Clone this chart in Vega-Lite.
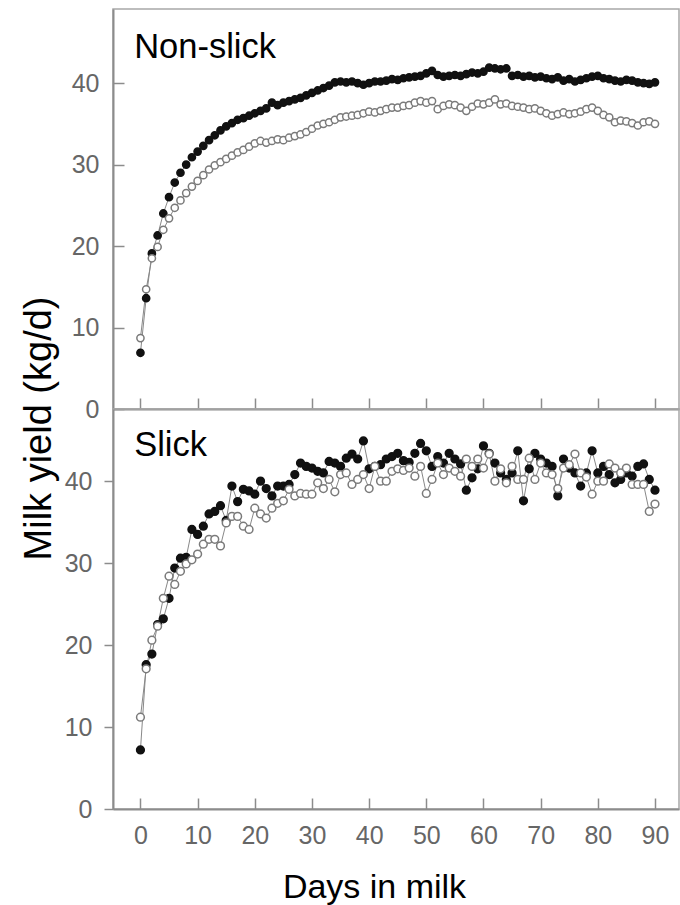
{
"$schema": "https://vega.github.io/schema/vega-lite/v6.json",
"padding": {"left": 19, "top": 8, "right": 0, "bottom": 0},
"spacing": 0,
"bounds": "flush",
"config": {
  "font": "Liberation Sans",
  "view": {"stroke": "#a8a8a8", "strokeWidth": 1.5},
  "axis": {"domainColor": "#8c8c8c", "domainWidth": 2, "tickColor": "#8c8c8c", "tickWidth": 1.5, "labelColor": "#666666", "labelFontSize": 25, "labelFont": "Liberation Sans", "grid": false, "titleColor": "#000000", "titleFontWeight": "normal", "titleFont": "Liberation Sans"}
},
"datasets": {
"ns": [
{"day":0,"series":"filled","milk":6.9},{"day":1,"series":"filled","milk":13.6},{"day":2,"series":"filled","milk":19.1},{"day":3,"series":"filled","milk":21.3},{"day":4,"series":"filled","milk":24.0},{"day":5,"series":"filled","milk":26.0},{"day":6,"series":"filled","milk":27.8},{"day":7,"series":"filled","milk":29.0},{"day":8,"series":"filled","milk":30.0},{"day":9,"series":"filled","milk":30.9},
{"day":10,"series":"filled","milk":31.6},{"day":11,"series":"filled","milk":32.3},{"day":12,"series":"filled","milk":33.0},{"day":13,"series":"filled","milk":33.6},{"day":14,"series":"filled","milk":34.2},{"day":15,"series":"filled","milk":34.7},{"day":16,"series":"filled","milk":35.1},{"day":17,"series":"filled","milk":35.5},{"day":18,"series":"filled","milk":35.7},{"day":19,"series":"filled","milk":36.0},
{"day":20,"series":"filled","milk":36.3},{"day":21,"series":"filled","milk":36.6},{"day":22,"series":"filled","milk":36.9},{"day":23,"series":"filled","milk":37.6},{"day":24,"series":"filled","milk":37.3},{"day":25,"series":"filled","milk":37.6},{"day":26,"series":"filled","milk":37.8},{"day":27,"series":"filled","milk":38.0},{"day":28,"series":"filled","milk":38.2},{"day":29,"series":"filled","milk":38.5},
{"day":30,"series":"filled","milk":38.8},{"day":31,"series":"filled","milk":39.1},{"day":32,"series":"filled","milk":39.4},{"day":33,"series":"filled","milk":39.7},{"day":34,"series":"filled","milk":40.1},{"day":35,"series":"filled","milk":40.2},{"day":36,"series":"filled","milk":40.1},{"day":37,"series":"filled","milk":40.2},{"day":38,"series":"filled","milk":40.0},{"day":39,"series":"filled","milk":39.8},
{"day":40,"series":"filled","milk":40.0},{"day":41,"series":"filled","milk":40.2},{"day":42,"series":"filled","milk":40.2},{"day":43,"series":"filled","milk":40.3},{"day":44,"series":"filled","milk":40.5},{"day":45,"series":"filled","milk":40.4},{"day":46,"series":"filled","milk":40.6},{"day":47,"series":"filled","milk":40.7},{"day":48,"series":"filled","milk":40.8},{"day":49,"series":"filled","milk":40.9},
{"day":50,"series":"filled","milk":41.2},{"day":51,"series":"filled","milk":41.5},{"day":52,"series":"filled","milk":41.0},{"day":53,"series":"filled","milk":40.8},{"day":54,"series":"filled","milk":40.9},{"day":55,"series":"filled","milk":41.0},{"day":56,"series":"filled","milk":40.9},{"day":57,"series":"filled","milk":41.1},{"day":58,"series":"filled","milk":41.3},{"day":59,"series":"filled","milk":41.2},
{"day":60,"series":"filled","milk":41.4},{"day":61,"series":"filled","milk":41.9},{"day":62,"series":"filled","milk":41.8},{"day":63,"series":"filled","milk":41.7},{"day":64,"series":"filled","milk":41.8},{"day":65,"series":"filled","milk":40.9},{"day":66,"series":"filled","milk":41.0},{"day":67,"series":"filled","milk":40.8},{"day":68,"series":"filled","milk":40.9},{"day":69,"series":"filled","milk":40.7},
{"day":70,"series":"filled","milk":40.8},{"day":71,"series":"filled","milk":40.6},{"day":72,"series":"filled","milk":40.5},{"day":73,"series":"filled","milk":40.7},{"day":74,"series":"filled","milk":40.3},{"day":75,"series":"filled","milk":40.5},{"day":76,"series":"filled","milk":40.2},{"day":77,"series":"filled","milk":40.4},{"day":78,"series":"filled","milk":40.6},{"day":79,"series":"filled","milk":40.8},
{"day":80,"series":"filled","milk":40.9},{"day":81,"series":"filled","milk":40.6},{"day":82,"series":"filled","milk":40.5},{"day":83,"series":"filled","milk":40.3},{"day":84,"series":"filled","milk":40.2},{"day":85,"series":"filled","milk":40.4},{"day":86,"series":"filled","milk":40.3},{"day":87,"series":"filled","milk":40.1},{"day":88,"series":"filled","milk":40.0},{"day":89,"series":"filled","milk":39.9},{"day":90,"series":"filled","milk":40.1},
{"day":0,"series":"open","milk":8.7},{"day":1,"series":"open","milk":14.7},{"day":2,"series":"open","milk":18.5},{"day":3,"series":"open","milk":19.9},{"day":4,"series":"open","milk":22.0},{"day":5,"series":"open","milk":23.4},{"day":6,"series":"open","milk":24.7},{"day":7,"series":"open","milk":25.6},{"day":8,"series":"open","milk":26.5},{"day":9,"series":"open","milk":27.3},
{"day":10,"series":"open","milk":28.0},{"day":11,"series":"open","milk":28.7},{"day":12,"series":"open","milk":29.4},{"day":13,"series":"open","milk":29.9},{"day":14,"series":"open","milk":30.3},{"day":15,"series":"open","milk":30.7},{"day":16,"series":"open","milk":31.1},{"day":17,"series":"open","milk":31.5},{"day":18,"series":"open","milk":31.8},{"day":19,"series":"open","milk":32.2},
{"day":20,"series":"open","milk":32.6},{"day":21,"series":"open","milk":32.9},{"day":22,"series":"open","milk":32.7},{"day":23,"series":"open","milk":32.9},{"day":24,"series":"open","milk":33.1},{"day":25,"series":"open","milk":33.0},{"day":26,"series":"open","milk":33.3},{"day":27,"series":"open","milk":33.5},{"day":28,"series":"open","milk":33.7},{"day":29,"series":"open","milk":34.0},
{"day":30,"series":"open","milk":34.4},{"day":31,"series":"open","milk":34.8},{"day":32,"series":"open","milk":35.0},{"day":33,"series":"open","milk":35.2},{"day":34,"series":"open","milk":35.5},{"day":35,"series":"open","milk":35.8},{"day":36,"series":"open","milk":35.9},{"day":37,"series":"open","milk":36.0},{"day":38,"series":"open","milk":36.1},{"day":39,"series":"open","milk":36.3},
{"day":40,"series":"open","milk":36.5},{"day":41,"series":"open","milk":36.4},{"day":42,"series":"open","milk":36.6},{"day":43,"series":"open","milk":36.8},{"day":44,"series":"open","milk":37.0},{"day":45,"series":"open","milk":37.0},{"day":46,"series":"open","milk":37.2},{"day":47,"series":"open","milk":37.3},{"day":48,"series":"open","milk":37.6},{"day":49,"series":"open","milk":37.8},
{"day":50,"series":"open","milk":37.6},{"day":51,"series":"open","milk":37.8},{"day":52,"series":"open","milk":36.8},{"day":53,"series":"open","milk":37.2},{"day":54,"series":"open","milk":37.4},{"day":55,"series":"open","milk":37.3},{"day":56,"series":"open","milk":37.0},{"day":57,"series":"open","milk":36.6},{"day":58,"series":"open","milk":37.1},{"day":59,"series":"open","milk":37.5},
{"day":60,"series":"open","milk":37.4},{"day":61,"series":"open","milk":37.6},{"day":62,"series":"open","milk":38.0},{"day":63,"series":"open","milk":37.4},{"day":64,"series":"open","milk":37.5},{"day":65,"series":"open","milk":37.2},{"day":66,"series":"open","milk":37.1},{"day":67,"series":"open","milk":37.0},{"day":68,"series":"open","milk":36.8},{"day":69,"series":"open","milk":36.9},
{"day":70,"series":"open","milk":36.6},{"day":71,"series":"open","milk":36.3},{"day":72,"series":"open","milk":36.0},{"day":73,"series":"open","milk":36.2},{"day":74,"series":"open","milk":36.4},{"day":75,"series":"open","milk":36.2},{"day":76,"series":"open","milk":36.3},{"day":77,"series":"open","milk":36.5},{"day":78,"series":"open","milk":36.8},{"day":79,"series":"open","milk":37.0},
{"day":80,"series":"open","milk":36.6},{"day":81,"series":"open","milk":36.1},{"day":82,"series":"open","milk":35.8},{"day":83,"series":"open","milk":35.2},{"day":84,"series":"open","milk":35.4},{"day":85,"series":"open","milk":35.3},{"day":86,"series":"open","milk":35.1},{"day":87,"series":"open","milk":34.8},{"day":88,"series":"open","milk":35.2},{"day":89,"series":"open","milk":35.3},{"day":90,"series":"open","milk":35.0}
],
"sl": [
{"day":0,"series":"filled","milk":7.2},{"day":1,"series":"filled","milk":17.6},{"day":2,"series":"filled","milk":18.9},{"day":3,"series":"filled","milk":22.5},{"day":4,"series":"filled","milk":23.2},{"day":5,"series":"filled","milk":25.7},{"day":6,"series":"filled","milk":29.4},{"day":7,"series":"filled","milk":30.6},{"day":8,"series":"filled","milk":30.7},{"day":9,"series":"filled","milk":34.1},
{"day":10,"series":"filled","milk":33.5},{"day":11,"series":"filled","milk":34.5},{"day":12,"series":"filled","milk":36.0},{"day":13,"series":"filled","milk":36.3},{"day":14,"series":"filled","milk":37.0},{"day":15,"series":"filled","milk":35.2},{"day":16,"series":"filled","milk":39.4},{"day":17,"series":"filled","milk":37.5},{"day":18,"series":"filled","milk":39.0},{"day":19,"series":"filled","milk":38.8},
{"day":20,"series":"filled","milk":38.4},{"day":21,"series":"filled","milk":40.0},{"day":22,"series":"filled","milk":39.1},{"day":23,"series":"filled","milk":38.2},{"day":24,"series":"filled","milk":39.4},{"day":25,"series":"filled","milk":39.4},{"day":26,"series":"filled","milk":39.6},{"day":27,"series":"filled","milk":40.8},{"day":28,"series":"filled","milk":42.2},{"day":29,"series":"filled","milk":41.8},
{"day":30,"series":"filled","milk":41.6},{"day":31,"series":"filled","milk":41.2},{"day":32,"series":"filled","milk":41.0},{"day":33,"series":"filled","milk":42.4},{"day":34,"series":"filled","milk":42.2},{"day":35,"series":"filled","milk":41.8},{"day":36,"series":"filled","milk":42.8},{"day":37,"series":"filled","milk":43.3},{"day":38,"series":"filled","milk":42.7},{"day":39,"series":"filled","milk":44.9},
{"day":40,"series":"filled","milk":41.5},{"day":41,"series":"filled","milk":41.8},{"day":42,"series":"filled","milk":42.0},{"day":43,"series":"filled","milk":42.7},{"day":44,"series":"filled","milk":43.0},{"day":45,"series":"filled","milk":43.4},{"day":46,"series":"filled","milk":42.5},{"day":47,"series":"filled","milk":42.3},{"day":48,"series":"filled","milk":43.4},{"day":49,"series":"filled","milk":44.6},
{"day":50,"series":"filled","milk":43.7},{"day":51,"series":"filled","milk":41.8},{"day":52,"series":"filled","milk":43.0},{"day":53,"series":"filled","milk":42.2},{"day":54,"series":"filled","milk":43.4},{"day":55,"series":"filled","milk":42.7},{"day":56,"series":"filled","milk":42.1},{"day":57,"series":"filled","milk":38.9},{"day":58,"series":"filled","milk":40.4},{"day":59,"series":"filled","milk":41.5},
{"day":60,"series":"filled","milk":44.3},{"day":61,"series":"filled","milk":43.4},{"day":62,"series":"filled","milk":42.2},{"day":63,"series":"filled","milk":41.0},{"day":64,"series":"filled","milk":40.2},{"day":65,"series":"filled","milk":41.0},{"day":66,"series":"filled","milk":43.7},{"day":67,"series":"filled","milk":37.6},{"day":68,"series":"filled","milk":41.5},{"day":69,"series":"filled","milk":43.4},
{"day":70,"series":"filled","milk":42.7},{"day":71,"series":"filled","milk":42.2},{"day":72,"series":"filled","milk":41.8},{"day":73,"series":"filled","milk":38.2},{"day":74,"series":"filled","milk":42.7},{"day":75,"series":"filled","milk":41.6},{"day":76,"series":"filled","milk":41.0},{"day":77,"series":"filled","milk":39.4},{"day":78,"series":"filled","milk":41.0},{"day":79,"series":"filled","milk":43.7},
{"day":80,"series":"filled","milk":41.0},{"day":81,"series":"filled","milk":41.8},{"day":82,"series":"filled","milk":40.8},{"day":83,"series":"filled","milk":39.8},{"day":84,"series":"filled","milk":40.2},{"day":85,"series":"filled","milk":41.0},{"day":86,"series":"filled","milk":40.6},{"day":87,"series":"filled","milk":41.8},{"day":88,"series":"filled","milk":42.1},{"day":89,"series":"filled","milk":40.2},{"day":90,"series":"filled","milk":38.9},
{"day":0,"series":"open","milk":11.2},{"day":1,"series":"open","milk":17.1},{"day":2,"series":"open","milk":20.6},{"day":3,"series":"open","milk":22.3},{"day":4,"series":"open","milk":25.7},{"day":5,"series":"open","milk":28.4},{"day":6,"series":"open","milk":27.4},{"day":7,"series":"open","milk":29.0},{"day":8,"series":"open","milk":29.9},{"day":9,"series":"open","milk":30.4},
{"day":10,"series":"open","milk":31.1},{"day":11,"series":"open","milk":32.3},{"day":12,"series":"open","milk":32.9},{"day":13,"series":"open","milk":32.9},{"day":14,"series":"open","milk":32.1},{"day":15,"series":"open","milk":34.9},{"day":16,"series":"open","milk":35.7},{"day":17,"series":"open","milk":35.7},{"day":18,"series":"open","milk":34.5},{"day":19,"series":"open","milk":34.1},
{"day":20,"series":"open","milk":36.7},{"day":21,"series":"open","milk":36.0},{"day":22,"series":"open","milk":35.5},{"day":23,"series":"open","milk":36.7},{"day":24,"series":"open","milk":37.3},{"day":25,"series":"open","milk":37.6},{"day":26,"series":"open","milk":39.0},{"day":27,"series":"open","milk":38.2},{"day":28,"series":"open","milk":38.5},{"day":29,"series":"open","milk":38.4},
{"day":30,"series":"open","milk":38.4},{"day":31,"series":"open","milk":39.8},{"day":32,"series":"open","milk":39.1},{"day":33,"series":"open","milk":40.2},{"day":34,"series":"open","milk":38.7},{"day":35,"series":"open","milk":40.8},{"day":36,"series":"open","milk":41.0},{"day":37,"series":"open","milk":39.6},{"day":38,"series":"open","milk":40.2},{"day":39,"series":"open","milk":40.8},
{"day":40,"series":"open","milk":39.1},{"day":41,"series":"open","milk":41.8},{"day":42,"series":"open","milk":40.0},{"day":43,"series":"open","milk":40.0},{"day":44,"series":"open","milk":41.2},{"day":45,"series":"open","milk":41.5},{"day":46,"series":"open","milk":41.3},{"day":47,"series":"open","milk":41.6},{"day":48,"series":"open","milk":40.6},{"day":49,"series":"open","milk":41.8},
{"day":50,"series":"open","milk":38.5},{"day":51,"series":"open","milk":40.2},{"day":52,"series":"open","milk":42.2},{"day":53,"series":"open","milk":40.8},{"day":54,"series":"open","milk":41.6},{"day":55,"series":"open","milk":41.2},{"day":56,"series":"open","milk":40.6},{"day":57,"series":"open","milk":42.7},{"day":58,"series":"open","milk":41.8},{"day":59,"series":"open","milk":42.7},
{"day":60,"series":"open","milk":41.6},{"day":61,"series":"open","milk":43.3},{"day":62,"series":"open","milk":40.0},{"day":63,"series":"open","milk":41.5},{"day":64,"series":"open","milk":39.8},{"day":65,"series":"open","milk":41.8},{"day":66,"series":"open","milk":40.2},{"day":67,"series":"open","milk":40.2},{"day":68,"series":"open","milk":42.8},{"day":69,"series":"open","milk":40.2},
{"day":70,"series":"open","milk":42.2},{"day":71,"series":"open","milk":41.0},{"day":72,"series":"open","milk":40.8},{"day":73,"series":"open","milk":39.1},{"day":74,"series":"open","milk":41.6},{"day":75,"series":"open","milk":42.0},{"day":76,"series":"open","milk":43.3},{"day":77,"series":"open","milk":41.0},{"day":78,"series":"open","milk":40.5},{"day":79,"series":"open","milk":38.4},
{"day":80,"series":"open","milk":40.0},{"day":81,"series":"open","milk":40.0},{"day":82,"series":"open","milk":42.1},{"day":83,"series":"open","milk":41.6},{"day":84,"series":"open","milk":41.0},{"day":85,"series":"open","milk":41.6},{"day":86,"series":"open","milk":39.6},{"day":87,"series":"open","milk":39.6},{"day":88,"series":"open","milk":39.6},{"day":89,"series":"open","milk":36.3},{"day":90,"series":"open","milk":37.2}
]
},
"vconcat": [
{
  "width": 566, "height": 400,
  "layer": [
    {
      "data": {"name": "ns"},
      "mark": {"type": "line", "color": "#888888", "strokeWidth": 1},
      "encoding": {
        "x": {"field": "day", "type": "quantitative", "scale": {"domain": [-4.8, 94.2], "nice": false, "zero": false},
              "axis": {"values": [0,10,20,30,40,50,60,70,80,90], "labels": false, "title": null, "tickSize": -11}},
        "y": {"field": "milk", "type": "quantitative", "scale": {"domain": [0, 49.1], "nice": false},
              "axis": {"values": [0,10,20,30,40], "tickSize": -11, "labelPadding": 25, "title": "Milk yield (kg/d)", "titleFontSize": 38, "titleAngle": -90, "titleX": -63, "titleY": 419, "titleAlign": "center", "titleBaseline": "alphabetic"}},
        "detail": {"field": "series"}
      }
    },
    {
      "data": {"name": "ns"},
      "mark": {"type": "point", "shape": "circle", "size": 52, "strokeWidth": 1.5, "opacity": 1},
      "encoding": {
        "x": {"field": "day", "type": "quantitative"},
        "y": {"field": "milk", "type": "quantitative"},
        "fill": {"field": "series", "type": "nominal", "scale": {"domain": ["filled", "open"], "range": ["#111111", "#ffffff"]}, "legend": null},
        "stroke": {"field": "series", "type": "nominal", "scale": {"domain": ["filled", "open"], "range": ["#111111", "#7a7a7a"]}, "legend": null}
      }
    },
    {
      "data": {"values": [{"panel": "Non-slick"}]},
      "mark": {"type": "text", "align": "left", "baseline": "alphabetic", "fontSize": 34.5, "color": "#000000"},
      "encoding": {
        "x": {"datum": -1.1, "type": "quantitative"},
        "y": {"datum": 43.05, "type": "quantitative"},
        "text": {"field": "panel"}
      }
    }
  ]
},
{
  "width": 566, "height": 400,
  "layer": [
    {
      "data": {"name": "sl"},
      "mark": {"type": "line", "color": "#888888", "strokeWidth": 1},
      "encoding": {
        "x": {"field": "day", "type": "quantitative", "scale": {"domain": [-4.8, 94.2], "nice": false, "zero": false},
              "axis": {"values": [0,10,20,30,40,50,60,70,80,90], "tickSize": -11, "labelPadding": 25, "title": "Days in milk", "titleFontSize": 34, "titleX": 261, "titleY": 88, "titleAlign": "center", "titleBaseline": "alphabetic"}},
        "y": {"field": "milk", "type": "quantitative", "scale": {"domain": [0, 48.8], "nice": false},
              "axis": {"values": [0,10,20,30,40], "tickSize": 9, "labelPadding": 12, "title": null}},
        "detail": {"field": "series"}
      }
    },
    {
      "data": {"name": "sl"},
      "mark": {"type": "point", "shape": "circle", "size": 60, "strokeWidth": 1.5, "opacity": 1},
      "encoding": {
        "x": {"field": "day", "type": "quantitative"},
        "y": {"field": "milk", "type": "quantitative"},
        "fill": {"field": "series", "type": "nominal", "scale": {"domain": ["filled", "open"], "range": ["#111111", "#ffffff"]}, "legend": null},
        "stroke": {"field": "series", "type": "nominal", "scale": {"domain": ["filled", "open"], "range": ["#111111", "#7a7a7a"]}, "legend": null}
      }
    },
    {
      "data": {"values": [{"panel": "Slick"}]},
      "mark": {"type": "text", "align": "left", "baseline": "alphabetic", "fontSize": 34.5, "color": "#000000"},
      "encoding": {
        "x": {"datum": -1.1, "type": "quantitative"},
        "y": {"datum": 43.05, "type": "quantitative"},
        "text": {"field": "panel"}
      }
    }
  ]
}
]
}
